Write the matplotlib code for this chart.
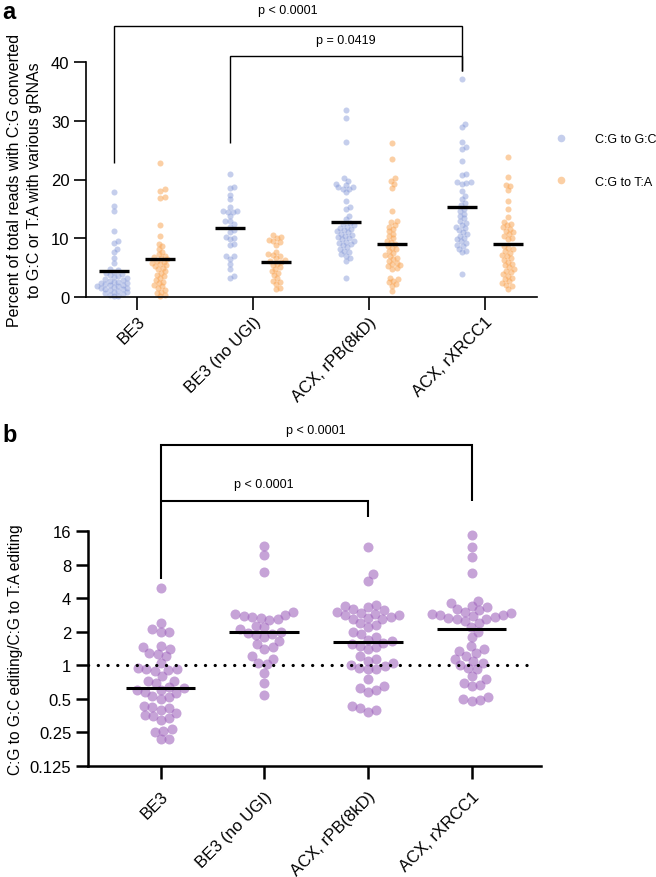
import matplotlib
matplotlib.use("Agg")
import matplotlib.pyplot as plt
import numpy as np
from matplotlib.lines import Line2D
from matplotlib.ticker import NullLocator

plt.rcParams['font.family'] = ['Liberation Sans', 'DejaVu Sans']

# -----------------------------
# data
groups = ["BE3", "BE3 (no UGI)", "ACX, rPB(8kD)", "ACX, rXRCC1"]
kinds = ["C:G to G:C", "C:G to T:A"]

# panel a: percent of reads
gc_be3 = [17.8, 15.5, 14.6, 11.3, 9.6, 9.2, 8.1, 7.6, 6.7, 5.8, 4.8, 4.6, 4.3, 4.1, 3.9,
          3.7, 3.5, 3.4, 3.2, 3.0, 2.9, 2.8, 2.6, 2.5, 2.4, 2.3, 2.2, 2.1, 2.0, 1.9,
          1.8, 1.7, 1.6, 1.5, 1.4, 1.3, 1.2, 1.0, 0.9, 0.8, 0.6, 0.5, 0.4, 0.2, 0.1]
ta_be3 = [22.8, 18.3, 18.1, 17.0, 16.8, 12.3, 10.4, 9.1, 8.6, 8.1, 7.7, 7.3, 7.0, 6.8,
          6.6, 6.4, 6.2, 6.0, 5.8, 5.6, 5.4, 5.2, 5.0, 4.7, 4.4, 4.1, 3.8, 3.5, 3.2,
          2.9, 2.6, 2.3, 2.0, 1.8, 1.5, 1.2, 0.9, 0.6, 0.3, 0.1]
gc_nougi = [20.9, 18.7, 18.6, 17.4, 16.6, 15.4, 14.6, 14.5, 14.4, 14.6, 13.8, 13.0, 12.9,
            12.4, 12.0, 11.4, 11.0, 10.2, 10.0, 9.9, 9.0, 8.9, 7.0, 6.9, 6.5, 5.6, 4.8,
            3.5, 3.2]
ta_nougi = [10.5, 10.2, 10.0, 9.7, 9.5, 9.3, 8.9, 7.6, 7.3, 7.1, 6.9, 6.6, 6.3, 6.1, 5.9,
            5.7, 5.4, 5.1, 4.8, 4.4, 4.1, 3.7, 3.2, 2.8, 2.5, 2.2, 1.6, 1.3]
gc_rpb = [31.9, 30.5, 26.4, 20.2, 19.8, 19.3, 19.1, 18.8, 18.7, 18.4, 18.3, 17.8, 16.4,
          15.3, 14.9, 13.8, 13.2, 12.6, 12.4, 12.2, 12.0, 11.8, 11.6, 11.4, 11.2, 11.0,
          10.8, 10.6, 10.4, 10.2, 10.0, 9.8, 9.6, 9.4, 9.2, 9.0, 8.8, 8.5, 8.2, 7.9,
          7.6, 7.3, 7.0, 6.6, 6.2, 3.2]
ta_rpb = [26.2, 23.5, 20.2, 19.8, 19.2, 18.5, 14.7, 13.0, 12.7, 12.3, 12.0, 11.6, 11.2,
          10.8, 10.4, 10.0, 9.6, 9.3, 9.0, 8.7, 8.4, 8.1, 7.8, 7.5, 7.2, 7.0, 6.7, 6.4,
          6.1, 5.8, 5.6, 5.4, 5.2, 5.0, 4.8, 3.3, 3.0, 2.8, 2.5, 2.2, 1.9, 1.1]
gc_xrcc = [37.1, 29.4, 28.9, 26.3, 25.5, 25.2, 23.2, 20.9, 20.7, 19.6, 19.5, 19.4, 19.3,
           18.1, 17.2, 16.7, 16.0, 15.6, 15.0, 14.6, 14.2, 13.8, 13.4, 13.0, 12.6, 12.3,
           12.0, 11.7, 11.4, 11.0, 10.7, 10.4, 10.1, 9.8, 9.5, 9.2, 8.9, 8.6, 8.2, 7.8,
           7.6, 3.9]
ta_xrcc = [23.8, 20.5, 19.1, 18.9, 18.2, 16.4, 15.0, 13.6, 12.8, 12.5, 12.2, 11.9, 11.6,
           11.3, 11.0, 10.7, 10.4, 10.1, 9.9, 8.7, 8.4, 8.1, 7.8, 7.5, 7.2, 6.9, 6.6, 6.3,
           6.0, 5.7, 5.4, 5.1, 4.8, 4.5, 4.2, 3.9, 3.6, 3.3, 3.0, 2.7, 2.4, 2.1, 1.8, 1.4]
gc_line = [4.4, 11.7, 12.8, 15.4]
ta_line = [6.5, 5.9, 9.1, 9.1]

# panel b: ratio G:C / T:A
r_be3 = [4.9, 2.4, 2.1, 2.0, 2.0, 1.5, 1.45, 1.4, 1.3, 1.25, 1.2, 1.05, 0.95, 0.93, 0.92,
         0.9, 0.88, 0.8, 0.73, 0.72, 0.7, 0.64, 0.62, 0.6, 0.6, 0.58, 0.57, 0.53, 0.52,
         0.5, 0.43, 0.42, 0.41, 0.4, 0.37, 0.36, 0.35, 0.34, 0.32, 0.27, 0.26, 0.25,
         0.22, 0.22]
r_nougi = [11.7, 9.7, 6.9, 3.0, 2.9, 2.8, 2.75, 2.7, 2.65, 2.6, 2.55, 2.25, 2.2, 2.1, 2.0,
           1.95, 1.9, 1.85, 1.8, 1.65, 1.55, 1.45, 1.4, 1.2, 1.15, 1.05, 1.02, 0.86,
           0.69, 0.54]
r_rpb = [11.6, 6.6, 5.7, 3.5, 3.4, 3.3, 3.2, 3.1, 3.0, 2.95, 2.9, 2.85, 2.8, 2.7, 2.65,
         2.6, 2.6, 2.4, 2.3, 2.2, 2.0, 1.9, 1.8, 1.7, 1.65, 1.6, 1.55, 1.5, 1.45, 1.4,
         1.2, 1.15, 1.1, 1.05, 1.0, 0.98, 0.95, 0.93, 0.92, 0.75, 0.65, 0.62, 0.6, 0.58,
         0.43, 0.41, 0.4, 0.38]
r_xrcc = [14.6, 11.6, 9.3, 6.7, 3.8, 3.6, 3.4, 3.3, 3.2, 3.1, 3.0, 2.95, 2.9, 2.85, 2.8,
          2.75, 2.7, 2.65, 2.6, 2.6, 2.5, 2.4, 2.2, 2.0, 1.8, 1.5, 1.4, 1.35, 1.3, 1.2,
          1.15, 1.1, 1.05, 1.0, 0.95, 0.92, 0.8, 0.75, 0.7, 0.66, 0.65, 0.52, 0.5, 0.49,
          0.48]
r_line = [0.62, 1.99, 1.63, 2.13]

# -----------------------------
blue = "#8094d6"
orange = "#f9a04b"
purple = "#a066bd"

fig = plt.figure(figsize=(6.56, 8.78), dpi=100)
W, H = 656, 878
ax_a = fig.add_axes([86 / W, 1 - 298 / H, 451 / W, 235 / H])
ax_b = fig.add_axes([88 / W, 1 - 767 / H, 453 / W, 235 / H])


def swarm(ax, xc, vals, d):
    # beeswarm in pixel space; d = min centre distance (px), some overlap allowed
    pix = ax.transData.transform(np.column_stack([np.full(len(vals), xc), vals]))
    ys = pix[:, 1]
    order = np.argsort(ys)
    placed = []
    offs = np.zeros(len(vals))
    for i in order:
        y = ys[i]
        cands = [0.0]
        near = [(px, py) for px, py in placed if abs(py - y) < d]
        for px, py in near:
            dx = np.sqrt(d ** 2 - (py - y) ** 2)
            cands += [px + dx, px - dx]
        cands.sort(key=abs)
        for c in cands:
            if all((c - px) ** 2 + (y - py) ** 2 >= d ** 2 - 1e-6 for px, py in near):
                offs[i] = c
                placed.append((c, y))
                break
    pix[:, 0] += offs
    return ax.transData.inverted().transform(pix)


def bracket(ax, x1, x2, y_top, y1, y2, text, y_text, lw):
    ax.plot([x1, x1, x2, x2], [y1, y_top, y_top, y2], color="black", lw=lw,
            clip_on=False, solid_joinstyle="miter", solid_capstyle="butt")
    ax.text((x1 + x2) / 2, y_text, text, ha="center", va="center", fontsize=9)


# ---- panel a ----
ax_a.set_xlim(-0.44, 3.45)
ax_a.set_ylim(0, 40)
for i, (gc, ta) in enumerate(zip([gc_be3, gc_nougi, gc_rpb, gc_xrcc],
                                 [ta_be3, ta_nougi, ta_rpb, ta_xrcc])):
    p = swarm(ax_a, i - 0.2, gc, 4.6)
    ax_a.scatter(p[:, 0], p[:, 1], s=19, color=blue, alpha=0.45, lw=0, clip_on=False)
    p = swarm(ax_a, i + 0.2, ta, 4.6)
    ax_a.scatter(p[:, 0], p[:, 1], s=19, color=orange, alpha=0.5, lw=0, clip_on=False)
    ax_a.plot([i - 0.2 - 0.13, i - 0.2 + 0.13], [gc_line[i]] * 2, color="black", lw=2.4,
              solid_capstyle="butt", zorder=5)
    ax_a.plot([i + 0.2 - 0.13, i + 0.2 + 0.13], [ta_line[i]] * 2, color="black", lw=2.4,
              solid_capstyle="butt", zorder=5)

ax_a.set_yticks([0, 10, 20, 30, 40])
ax_a.set_xticks(range(4))
ax_a.set_xticklabels(groups, rotation=45, ha="right", va="top", rotation_mode="anchor")
ax_a.set_ylabel("Percent of total reads with C:G converted\nto G:C or T:A with various gRNAs",
                fontsize=11.5, linespacing=1.45)
ax_a.yaxis.set_label_coords(-0.097, 0.5)
for s in ["top", "right"]:
    ax_a.spines[s].set_visible(False)
for s in ["left", "bottom"]:
    ax_a.spines[s].set_linewidth(1.2)
ax_a.tick_params(length=9, width=1.2, labelsize=12, pad=3)

bracket(ax_a, -0.2, 2.8, 46.1, 22.8, 38.5, "p < 0.0001", 48.8, 1.0)
bracket(ax_a, 0.8, 2.8, 41.0, 26.2, 38.5, "p = 0.0419", 43.8, 1.0)

handles = [Line2D([], [], ls="none", marker="o", ms=5.5, color=blue, alpha=0.45, mew=0),
           Line2D([], [], ls="none", marker="o", ms=5.5, color=orange, alpha=0.5, mew=0)]
fig.legend(handles, kinds, loc="upper left", bbox_to_anchor=(548 / W, 1 - 134 / H),
           frameon=False, fontsize=9, labelspacing=2.45, handletextpad=1.75,
           borderpad=0, borderaxespad=0)

fig.text(2 / W, 1 - 1 / H, "a", fontsize=17, fontweight="bold", va="top", ha="left")

# ---- panel b ----
ax_b.set_yscale("log", base=2)
ax_b.set_xlim(-0.7, 3.67)
ax_b.set_ylim(0.125, 16)
for i, r in enumerate([r_be3, r_nougi, r_rpb, r_xrcc]):
    p = swarm(ax_b, i, r, 8.6)
    ax_b.scatter(p[:, 0], p[:, 1], s=52, color=purple, alpha=0.6, lw=0, clip_on=False)
    ax_b.plot([i - 0.335, i + 0.335], [r_line[i]] * 2, color="black", lw=2.2,
              solid_capstyle="butt", zorder=5)
ax_b.plot([-0.7, 3.6], [1, 1], color="black", lw=2.3, ls=(0, (0.05, 3.0)),
          dash_capstyle="round", zorder=4)

ax_b.set_yticks([0.125, 0.25, 0.5, 1, 2, 4, 8, 16])
ax_b.set_yticklabels(["0.125", "0.25", "0.5", "1", "2", "4", "8", "16"])
ax_b.yaxis.set_minor_locator(NullLocator())
ax_b.set_xticks(range(4))
ax_b.set_xticklabels(groups, rotation=45, ha="right", va="top", rotation_mode="anchor")
ax_b.set_ylabel("C:G to G:C editing/C:G to T:A editing", fontsize=11.2)
ax_b.yaxis.set_label_coords(-0.143, 0.5)
for s in ["top", "right"]:
    ax_b.spines[s].set_visible(False)
for s in ["left", "bottom"]:
    ax_b.spines[s].set_linewidth(1.8)
ax_b.tick_params(length=9, width=1.8, labelsize=12, pad=3)
ax_b.tick_params(axis="x", pad=7)

bracket(ax_b, 0, 3, 93.5, 6.0, 30.0, "p < 0.0001", 130, 1.5)
bracket(ax_b, 0, 2, 30.0, 30.0, 21.2, "p < 0.0001", 41.8, 1.5)

fig.text(2 / W, 1 - 424 / H, "b", fontsize=17, fontweight="bold", va="top", ha="left")

fig.savefig("out.png", dpi=100)
